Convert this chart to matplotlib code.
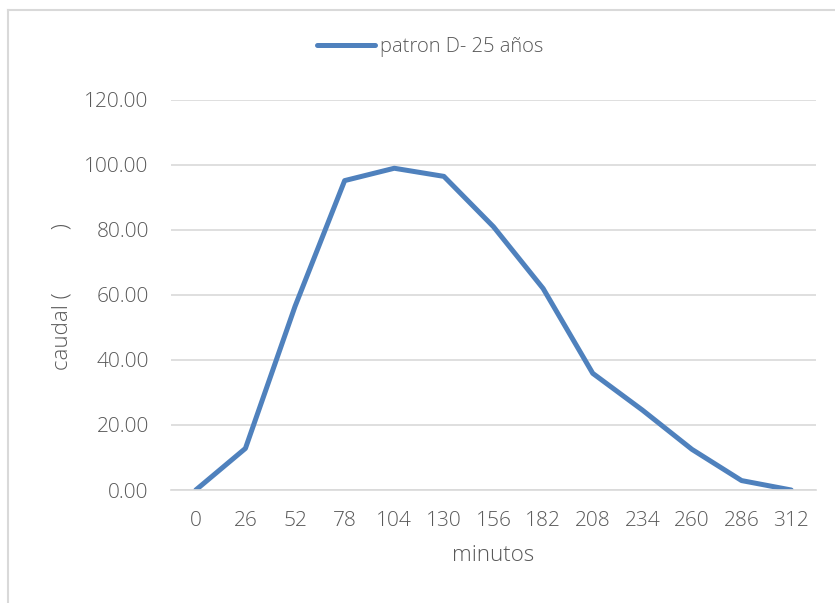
import matplotlib.pyplot as plt
from matplotlib.lines import Line2D

# Data
minutos = [0, 26, 52, 78, 104, 130, 156, 182, 208, 234, 260, 286, 312]
caudal = [0.0, 12.8, 56.5, 95.2, 99.0, 96.5, 81.0, 62.0, 35.9, 24.6, 12.5, 2.9, 0.0]
serie_nombre = "patron D- 25 años"

BLUE = "#4F81BD"
GRID = "#D9D9D9"
TEXT = "#595959"

plt.rcParams["font.family"] = ["Open Sans", "DejaVu Sans"]
plt.rcParams["font.weight"] = "light"
plt.rcParams["axes.labelweight"] = "light"

fig = plt.figure(figsize=(8.35, 6.03), dpi=100)
ax = fig.add_axes([171 / 835, 1 - 490 / 603, 645 / 835, 390 / 603])

pos = list(range(len(minutos)))
ax.plot(pos, caudal, color=BLUE, linewidth=3.6, solid_joinstyle="round",
        solid_capstyle="round", label=serie_nombre)

ax.set_xlim(-0.5, len(minutos) - 0.5)
ax.set_ylim(0, 120)
ax.set_yticks(range(0, 121, 20))
ax.set_yticklabels([f"{v:.2f}" for v in range(0, 121, 20)])
ax.set_xticks(pos)
ax.set_xticklabels([str(m) for m in minutos])

ax.grid(axis="y", color=GRID, linewidth=1.2)
ax.set_axisbelow(True)
for s in ["top", "right", "left"]:
    ax.spines[s].set_visible(False)
ax.spines["bottom"].set_color(GRID)
ax.spines["bottom"].set_linewidth(1.2)
ax.tick_params(axis="both", length=0, labelsize=15, labelcolor=TEXT)
ax.tick_params(axis="x", pad=15)
ax.tick_params(axis="y", pad=16)

ax.set_xlabel("minutos", fontsize=16, color=TEXT, labelpad=10)
ax.set_ylabel("caudal (           )", fontsize=16, color=TEXT)
ax.yaxis.set_label_coords(-0.152, 0.495)

handle = Line2D([], [], color=BLUE, linewidth=3.6, solid_capstyle="round")
leg = fig.legend([handle], [serie_nombre], loc="center",
                 bbox_to_anchor=(430 / 835, 1 - 47 / 603), frameon=False,
                 fontsize=14.5, handlelength=2.9, handletextpad=0.2)
for t in leg.get_texts():
    t.set_color(TEXT)

# outer chart border (only top and left visible in the crop)
fig.add_artist(Line2D([8 / 835, 8 / 835], [0, 1 - 10 / 603],
                      transform=fig.transFigure, color=GRID, linewidth=1.5))
fig.add_artist(Line2D([8 / 835, 1], [1 - 10 / 603, 1 - 10 / 603],
                      transform=fig.transFigure, color=GRID, linewidth=1.5))

fig.savefig("out.png", dpi=100)
